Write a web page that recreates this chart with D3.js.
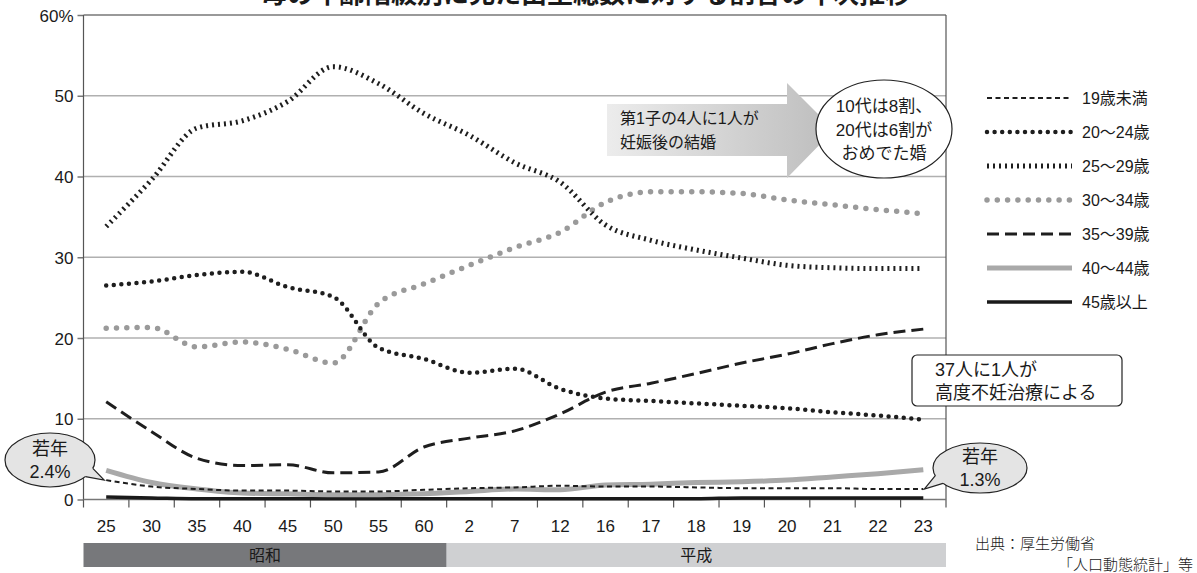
<!DOCTYPE html>
<html>
<head>
<meta charset="utf-8">
<script src="https://cdn.jsdelivr.net/npm/d3@7"></script>
<style>
  html, body { margin: 0; padding: 0; background: #fff; }
  svg { display: block; }
  text { font-family: "Liberation Sans", "Noto Sans CJK JP", sans-serif; fill: #1a1a1a; }
</style>
</head>
<body>
<svg id="chart" width="1197" height="573"></svg>
<script>
// Birth share by mother's age group (% of all births), 昭和25年 – 平成23年
const categories = ["25","30","35","40","45","50","55","60","2","7","12","16","17","18","19","20","21","22","23"];
const eras = [
  { name: "昭和", from: 0, to: 7 },
  { name: "平成", from: 8, to: 18 }
];
const seriesNames = ["19歳未満","20〜24歳","25〜29歳","30〜34歳","35〜39歳","40〜44歳","45歳以上"];
const under19  = [2.4, 1.6, 1.3, 1.1, 1.1, 1.0, 1.0, 1.2, 1.4, 1.5, 1.7, 1.6, 1.6, 1.5, 1.4, 1.4, 1.4, 1.3, 1.3];
const age20_24 = [26.5, 27.0, 27.8, 28.2, 26.3, 25.1, 18.8, 17.4, 15.7, 16.2, 13.7, 12.5, 12.2, 11.9, 11.6, 11.3, 10.8, 10.4, 9.9];
const age25_29 = [33.8, 39.6, 46.0, 46.9, 49.3, 53.6, 51.5, 47.8, 45.1, 41.7, 39.3, 34.0, 32.1, 30.9, 29.9, 29.0, 28.7, 28.6, 28.6];
const age30_34 = [21.2, 21.3, 18.9, 19.5, 18.6, 16.9, 24.3, 26.7, 29.0, 31.2, 33.1, 36.8, 38.1, 38.1, 37.9, 37.1, 36.5, 35.9, 35.4];
const age35_39 = [12.1, 8.4, 5.1, 4.2, 4.3, 3.3, 3.4, 6.5, 7.6, 8.5, 10.6, 13.3, 14.4, 15.6, 16.9, 18.0, 19.3, 20.4, 21.1];
const age40_44 = [3.6, 2.1, 1.3, 0.8, 0.7, 0.6, 0.6, 0.7, 1.0, 1.3, 1.2, 1.8, 1.9, 2.1, 2.2, 2.4, 2.8, 3.2, 3.7];
const age45up  = [0.3, 0.2, 0.1, 0.1, 0.1, 0.1, 0.1, 0.1, 0.1, 0.1, 0.1, 0.1, 0.1, 0.1, 0.2, 0.2, 0.2, 0.2, 0.2];
const yTicks = [0, 10, 20, 30, 40, 50, 60];

const svg = d3.select("#chart");
const plot = { left: 83.5, right: 946, top: 15, bottom: 499.5 };

const x = d3.scaleBand().domain(d3.range(categories.length)).range([plot.left, plot.right]);
const y = d3.scaleLinear().domain([0, 60]).range([plot.bottom, plot.top]);
const cx = i => x(i) + x.bandwidth() / 2;

// Title (runs off the top edge)
svg.append("text")
  .attr("x", 586).attr("y", 3)
  .attr("text-anchor", "middle")
  .style("font-family", "'Noto Sans CJK JP', sans-serif")
  .style("font-weight", "bold")
  .style("font-size", "26px")
  .text("母の年齢階級別に見た出生総数に対する割合の年次推移");

// Gridlines
const grid = svg.append("g");
grid.selectAll("line").data(yTicks.filter(t => t > 0 && t < 60)).join("line")
  .attr("x1", plot.left).attr("x2", plot.right)
  .attr("y1", d => y(d)).attr("y2", d => y(d))
  .attr("stroke", "#b0b0b0").attr("stroke-width", 1.5);

// Frame: top border, right border
svg.append("line").attr("x1", plot.left).attr("x2", plot.right)
  .attr("y1", y(60)).attr("y2", y(60)).attr("stroke", "#777").attr("stroke-width", 1.5);
svg.append("line").attr("x1", plot.right).attr("x2", plot.right)
  .attr("y1", y(60)).attr("y2", plot.bottom + 8).attr("stroke", "#555").attr("stroke-width", 1.2);

// Y axis
const yAxis = d3.axisLeft(y).tickValues(yTicks).tickSize(6).tickPadding(4)
  .tickFormat(d => d === 60 ? "60%" : d);
const gy = svg.append("g").attr("transform", `translate(${plot.left},0)`).call(yAxis);
gy.select(".domain").remove();
gy.append("line").attr("x1", 0).attr("x2", 0).attr("y1", y(60)).attr("y2", plot.bottom + 8)
  .attr("stroke", "#555").attr("stroke-width", 1.2);
gy.selectAll(".tick line").attr("stroke", "#777").attr("stroke-width", 1.5);
gy.selectAll(".tick text").style("font-size", "17px").attr("fill", "#1a1a1a")
  .attr("dy", "0.36em");

// X axis (labels centred in bands, ticks at band edges)
const gx = svg.append("g").attr("transform", `translate(0,${plot.bottom})`);
gx.append("line").attr("x1", plot.left).attr("x2", plot.right).attr("y1", 0).attr("y2", 0)
  .attr("stroke", "#777").attr("stroke-width", 1.5);
gx.selectAll("line.tk").data(d3.range(1, categories.length)).join("line")
  .attr("class", "tk")
  .attr("x1", d => x(d)).attr("x2", d => x(d)).attr("y1", 0).attr("y2", 8)
  .attr("stroke", "#555").attr("stroke-width", 1.2);
gx.selectAll("text").data(categories).join("text")
  .attr("x", (d, i) => cx(i)).attr("y", 32)
  .attr("text-anchor", "middle")
  .style("font-size", "17px")
  .text(d => d);

// Era bars
const eraG = svg.append("g");
eras.forEach((e, k) => {
  const x0 = x(e.from), x1 = x(e.to) + x.bandwidth();
  eraG.append("rect").attr("x", x0).attr("y", 543).attr("width", x1 - x0).attr("height", 24)
    .attr("fill", k === 0 ? "#77787b" : "#cfd0d2");
  eraG.append("text").attr("x", (x0 + x1) / 2).attr("y", 561).attr("text-anchor", "middle")
    .style("font-family", "'Noto Sans CJK JP', sans-serif")
    .style("font-size", "16px")
    .attr("fill", k === 0 ? "#ffffff" : "#222")
    .text(e.name);
});

// Line styles per series
const styles = [
  { values: under19,  color: "#1e1e1e", width: 2,   dash: "5 3.5", cap: "butt" },
  { values: age20_24, color: "#1e1e1e", width: 4.5, dash: "0 7.6", cap: "round" },
  { values: age25_29, color: "#1e1e1e", width: 5,   dash: "2 4",   cap: "butt" },
  { values: age30_34, color: "#9a9a9a", width: 5.5, dash: "0 10.3", cap: "round" },
  { values: age35_39, color: "#1e1e1e", width: 3,   dash: "12 6",  cap: "butt" },
  { values: age40_44, color: "#a9a9a9", width: 5,   dash: null,    cap: "butt" },
  { values: age45up,  color: "#1a1a1a", width: 3.5, dash: null,    cap: "butt" }
];

const line = d3.line().x((d, i) => cx(i)).y(d => y(d)).curve(d3.curveMonotoneX);
const drawOrder = [6, 5, 0, 4, 3, 1, 2];
const linesG = svg.append("g");
drawOrder.forEach(k => {
  const s = styles[k];
  linesG.append("path")
    .attr("d", line(s.values))
    .attr("fill", "none")
    .attr("stroke", s.color)
    .attr("stroke-width", s.width)
    .attr("stroke-dasharray", s.dash)
    .attr("stroke-linecap", s.cap);
});

// Legend
const legend = svg.append("g");
const legendY = [98, 132, 166, 200, 234, 268, 302];
seriesNames.forEach((name, k) => {
  const s = styles[k];
  legend.append("line")
    .attr("x1", 987).attr("x2", 1072).attr("y1", legendY[k]).attr("y2", legendY[k])
    .attr("stroke", s.color).attr("stroke-width", s.width)
    .attr("stroke-dasharray", s.dash).attr("stroke-linecap", s.cap);
  legend.append("text").attr("x", 1082).attr("y", legendY[k]).attr("dy", "0.36em")
    .style("font-size", "16px").text(name);
});

// Arrow callout
const defs = svg.append("defs");
const grad = defs.append("linearGradient").attr("id", "arrowFill")
  .attr("x1", "0%").attr("x2", "100%").attr("y1", "0%").attr("y2", "0%");
grad.append("stop").attr("offset", "0%").attr("stop-color", "#ececec");
grad.append("stop").attr("offset", "100%").attr("stop-color", "#bdbdbd");

svg.append("path")
  .attr("d", "M607,104 L787,104 L787,83 L834,130 L787,178 L787,156 L607,156 Z")
  .attr("fill", "url(#arrowFill)");
const arrowText = svg.append("text").style("font-size", "16px");
arrowText.append("tspan").attr("x", 620).attr("y", 124).text("第1子の4人に1人が");
arrowText.append("tspan").attr("x", 620).attr("y", 148).text("妊娠後の結婚");

// Ellipse callout
svg.append("ellipse").attr("cx", 884).attr("cy", 129).attr("rx", 68).attr("ry", 49)
  .attr("fill", "#fff").attr("stroke", "#222").attr("stroke-width", 1.2);
const ellText = svg.append("text").attr("text-anchor", "middle").style("font-size", "17px");
["10代は8割、", "20代は6割が", "おめでた婚"].forEach((t, i) => {
  ellText.append("tspan").attr("x", 884).attr("y", 112 + i * 23.5).text(t);
});

// Box callout
svg.append("rect").attr("x", 912).attr("y", 355).attr("width", 210).attr("height", 51)
  .attr("rx", 5).attr("fill", "#fff").attr("stroke", "#222").attr("stroke-width", 1.2);
const boxText = svg.append("text").style("font-size", "18px");
boxText.append("tspan").attr("x", 935).attr("y", 376).text("37人に1人が");
boxText.append("tspan").attr("x", 935).attr("y", 399).text("高度不妊治療による");

// Speech bubbles pointing at the under-19 line
function bubble(c, rx, ry, a1, a2, tip, lines) {
  const g = svg.append("g");
  const p = a => [c[0] + rx * Math.cos(a * Math.PI / 180), c[1] + ry * Math.sin(a * Math.PI / 180)];
  const A = p(a1), B = p(a2);
  g.append("ellipse").attr("cx", c[0]).attr("cy", c[1]).attr("rx", rx).attr("ry", ry)
    .attr("fill", "#e4e4e4").attr("stroke", "#222").attr("stroke-width", 1.2);
  const inner = a => [c[0] + (rx - 3) * Math.cos(a * Math.PI / 180), c[1] + (ry - 3) * Math.sin(a * Math.PI / 180)];
  const Ai = inner(a1), Bi = inner(a2);
  g.append("path").attr("d", `M${Ai}L${A}L${tip}L${B}L${Bi}Z`).attr("fill", "#e4e4e4");
  g.append("path").attr("d", `M${A}L${tip}L${B}`).attr("fill", "none")
    .attr("stroke", "#222").attr("stroke-width", 1.2);
  const t = g.append("text").attr("text-anchor", "middle").style("font-size", "18px");
  lines.forEach((s, i) => t.append("tspan").attr("x", c[0]).attr("y", c[1] - 5 + i * 23).text(s));
}
bubble([50, 460], 45, 27, 38, 18, [cx(0) - 2, y(under19[0])], ["若年", "2.4%"]);
bubble([980, 468], 47, 25, 142, 162, [cx(18) + 1, y(under19[18])], ["若年", "1.3%"]);

// Source note
svg.append("text").attr("x", 975).attr("y", 549)
  .style("font-family", "'Noto Sans CJK JP', sans-serif").style("font-size", "15px").style("font-weight", "300")
  .text("出典：厚生労働省");
svg.append("text").attr("x", 1193).attr("y", 570).attr("text-anchor", "end")
  .style("font-family", "'Noto Sans CJK JP', sans-serif").style("font-size", "15px").style("font-weight", "300")
  .text("「人口動態統計」等");
</script>
</body>
</html>
